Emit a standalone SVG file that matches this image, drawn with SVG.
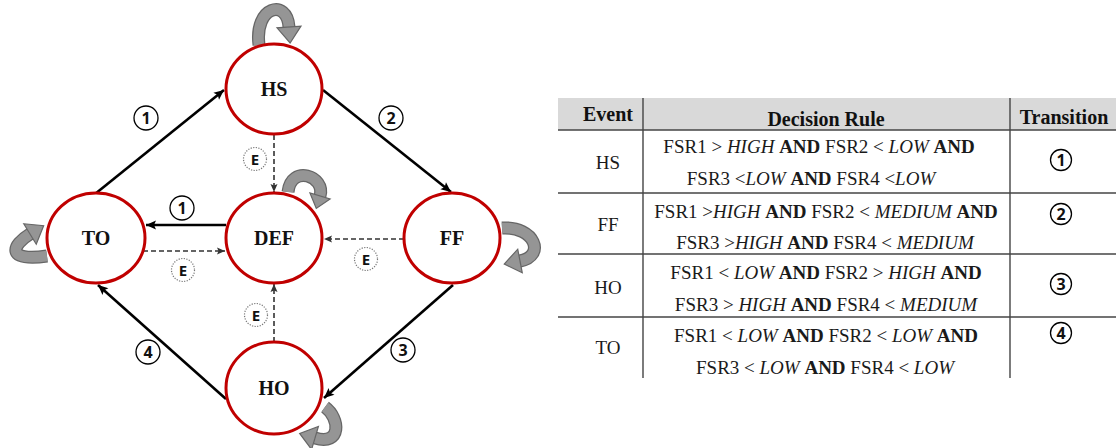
<svg xmlns="http://www.w3.org/2000/svg" width="1116" height="448" viewBox="0 0 1116 448">
  <style>
    .node { fill: #ffffff; stroke: #c00000; stroke-width: 3; }
    .nlabel { font-family: "Liberation Serif", serif; font-weight: bold; font-size: 20px; fill: #111; text-anchor: middle; }
    .solid { stroke: #000; stroke-width: 2.6; fill: none; }
    .dash { stroke: #333; stroke-width: 1.6; fill: none; stroke-dasharray: 5 3; }
    .num { fill: #fff; stroke: #000; stroke-width: 1.3; }
    .ecirc { fill: #fff; stroke: #777; stroke-width: 1.2; stroke-dasharray: 1.2 1.4; }
    .numtxt { font-family: "Open Sans", "Liberation Sans", sans-serif; font-weight: bold; font-size: 16px; fill: #111; text-anchor: middle; }
    .etxt { font-family: "Open Sans", "Liberation Sans", sans-serif; font-weight: bold; font-size: 15px; fill: #111; text-anchor: middle; }
    .loop-out { stroke: #666; stroke-width: 13; fill: none; }
    .loop-in { stroke: #959595; stroke-width: 10.5; fill: none; }
    .tbl { stroke: #444; stroke-width: 1.4; }
    .th { font-family: "Liberation Serif", serif; font-weight: bold; font-size: 20px; fill: #111; text-anchor: middle; }
    .td { font-family: "Liberation Serif", serif; font-size: 19px; fill: #1a1a1a; text-anchor: middle; }
    .i { font-style: italic; }
    .b { font-weight: bold; }
  </style>
  <defs>
    <marker id="arrow" markerUnits="userSpaceOnUse" markerWidth="12" markerHeight="12" viewBox="0 -6 12 12" refX="10" refY="0" orient="auto" overflow="visible">
      <path d="M0,-4.5 L10,0 L0,4.5 L2,0 Z" fill="#000"/>
    </marker>
    <marker id="arrowSmall" markerUnits="userSpaceOnUse" markerWidth="10" markerHeight="10" viewBox="0 -5 10 10" refX="8" refY="0" orient="auto" overflow="visible">
      <path d="M0,-3.5 L8,0 L0,3.5 L1.5,0 Z" fill="#333"/>
    </marker>
    <marker id="loopHead" markerUnits="userSpaceOnUse" markerWidth="22" markerHeight="28" viewBox="0 -14 22 28" refX="0" refY="0" orient="auto" overflow="visible">
      <path d="M0,-12 L16,0 L0,12 Z" fill="#959595" stroke="#666" stroke-width="1.2" stroke-linejoin="miter"/>
    </marker>
    <marker id="loopHeadS" markerUnits="userSpaceOnUse" markerWidth="20" markerHeight="24" viewBox="0 -12 20 24" refX="0" refY="0" orient="auto" overflow="visible">
      <path d="M0,-10.5 L13,0 L0,10.5 Z" fill="#959595" stroke="#666" stroke-width="1.2"/>
    </marker>
  </defs>

  <!-- transitions between states -->
  <g id="connectors">
    <line class="solid" x1="95" y1="194" x2="224" y2="90" marker-end="url(#arrow)"/>
    <line class="solid" x1="323" y1="90" x2="451" y2="192" marker-end="url(#arrow)"/>
    <line class="solid" x1="453" y1="285" x2="324" y2="398" marker-end="url(#arrow)"/>
    <line class="solid" x1="226" y1="399" x2="98" y2="285" marker-end="url(#arrow)"/>
    <line class="solid" x1="226" y1="225" x2="146" y2="225" marker-end="url(#arrow)"/>
    <line class="dash" x1="143" y1="251" x2="225" y2="251" marker-end="url(#arrowSmall)"/>
    <line class="dash" x1="404" y1="239" x2="324" y2="239" marker-end="url(#arrowSmall)"/>
    <line class="dash" x1="274" y1="135" x2="274" y2="192" marker-end="url(#arrowSmall)"/>
    <line class="dash" x1="274" y1="342" x2="274" y2="284" marker-end="url(#arrowSmall)"/>

    <!-- self loops -->
    <path class="loop-out" d="M 259 45 C 254 6, 287 -2, 289 27"/>
    <path class="loop-in" d="M 259 45 C 254 6, 287 -2, 289 27" marker-end="url(#loopHead)"/>
    <path class="loop-out" d="M 288 192 C 291 164, 326 176, 320 196" stroke-width="11.5"/>
    <path class="loop-in" d="M 288 192 C 291 164, 326 176, 320 196" stroke-width="9" marker-end="url(#loopHeadS)"/>
    <path class="loop-out" d="M 47 256 C 5 262, 12 245, 30 234"/>
    <path class="loop-in" d="M 47 256 C 5 262, 12 245, 30 234" marker-end="url(#loopHead)"/>
    <path class="loop-out" d="M 502 228 C 535 226, 546 256, 520 261"/>
    <path class="loop-in" d="M 502 228 C 535 226, 546 256, 520 261" marker-end="url(#loopHead)"/>
    <path class="loop-out" d="M 325 407 C 340 418, 342 446, 315 438"/>
    <path class="loop-in" d="M 325 407 C 340 418, 342 446, 315 438" marker-end="url(#loopHead)"/>

    <!-- transition labels -->
    <g id="label-1a"><circle class="num" cx="146" cy="118" r="12"/><text class="numtxt" x="146" y="124">1</text></g>
    <g id="label-2"><circle class="num" cx="391" cy="118" r="12"/><text class="numtxt" x="391" y="124">2</text></g>
    <g id="label-3"><circle class="num" cx="403" cy="350" r="12"/><text class="numtxt" x="403" y="356">3</text></g>
    <g id="label-4"><circle class="num" cx="148" cy="352" r="12"/><text class="numtxt" x="148" y="358">4</text></g>
    <g id="label-1b"><circle class="num" cx="182" cy="208" r="12"/><text class="numtxt" x="182" y="214">1</text></g>
    <g id="label-e1"><circle class="ecirc" cx="255" cy="159" r="11.5"/><text class="etxt" x="255" y="164.5">E</text></g>
    <g id="label-e2"><circle class="ecirc" cx="183" cy="270" r="11.5"/><text class="etxt" x="183" y="275.5">E</text></g>
    <g id="label-e3"><circle class="ecirc" cx="366" cy="259" r="11.5"/><text class="etxt" x="366" y="264.5">E</text></g>
    <g id="label-e4"><circle class="ecirc" cx="256" cy="315" r="11.5"/><text class="etxt" x="256" y="320.5">E</text></g>
  </g>

  <g id="HS"><ellipse class="node" cx="274" cy="89" rx="48" ry="45"/><text class="nlabel" x="274" y="96">HS</text></g>
  <g id="DEF"><ellipse class="node" cx="274" cy="238" rx="48" ry="45"/><text class="nlabel" x="274" y="245">DEF</text></g>
  <g id="TO"><ellipse class="node" cx="96" cy="238" rx="49" ry="45"/><text class="nlabel" x="96" y="245">TO</text></g>
  <g id="FF"><ellipse class="node" cx="452" cy="238" rx="48" ry="45"/><text class="nlabel" x="452" y="245">FF</text></g>
  <g id="HO"><ellipse class="node" cx="274" cy="388" rx="48" ry="46"/><text class="nlabel" x="274" y="395">HO</text></g>

  <!-- decision rule table -->
  <g id="table">
    <rect x="558" y="98" width="558" height="32" fill="#d9d9d9"/>
    <line class="tbl" x1="558" y1="130" x2="1116" y2="130"/>
    <line class="tbl" x1="558" y1="193" x2="1116" y2="193"/>
    <line class="tbl" x1="558" y1="254" x2="1116" y2="254"/>
    <line class="tbl" x1="558" y1="317" x2="1116" y2="317"/>
    <line class="tbl" x1="643" y1="98" x2="643" y2="378"/>
    <line class="tbl" x1="1010" y1="98" x2="1010" y2="378"/>

    <text class="th" x="608" y="121">Event</text>
    <text class="th" x="826" y="126">Decision Rule</text>
    <text class="th" x="1064" y="124">Transition</text>

    <text class="td" x="608" y="169">HS</text>
    <text class="td" x="608" y="231">FF</text>
    <text class="td" x="608" y="294">HO</text>
    <text class="td" x="608" y="354">TO</text>

    <text class="td" x="819" y="153">FSR1 &gt; <tspan class="i">HIGH</tspan> <tspan class="b">AND</tspan> FSR2 &lt; <tspan class="i">LOW</tspan> <tspan class="b">AND</tspan></text>
    <text class="td" x="811" y="185">FSR3 &lt;<tspan class="i">LOW</tspan> <tspan class="b">AND</tspan> FSR4 &lt;<tspan class="i">LOW</tspan></text>
    <text class="td" x="826" y="218">FSR1 &gt;<tspan class="i">HIGH</tspan> <tspan class="b">AND</tspan> FSR2 &lt; <tspan class="i">MEDIUM</tspan> <tspan class="b">AND</tspan></text>
    <text class="td" x="825" y="249">FSR3 &gt;<tspan class="i">HIGH</tspan> <tspan class="b">AND</tspan> FSR4 &lt; <tspan class="i">MEDIUM</tspan></text>
    <text class="td" x="826" y="279">FSR1 &lt; <tspan class="i">LOW</tspan> <tspan class="b">AND</tspan> FSR2 &gt; <tspan class="i">HIGH</tspan> <tspan class="b">AND</tspan></text>
    <text class="td" x="826" y="311">FSR3 &gt; <tspan class="i">HIGH</tspan> <tspan class="b">AND</tspan> FSR4 &lt; <tspan class="i">MEDIUM</tspan></text>
    <text class="td" x="826" y="342">FSR1 &lt; <tspan class="i">LOW</tspan> <tspan class="b">AND</tspan> FSR2 &lt; <tspan class="i">LOW</tspan> <tspan class="b">AND</tspan></text>
    <text class="td" x="825" y="374">FSR3 &lt; <tspan class="i">LOW</tspan> <tspan class="b">AND</tspan> FSR4 &lt; <tspan class="i">LOW</tspan></text>

    <g id="t1"><circle class="num" cx="1061" cy="160" r="10.5"/><text class="numtxt" x="1061" y="165.5" font-size="15">1</text></g>
    <g id="t2"><circle class="num" cx="1061" cy="214" r="10.5"/><text class="numtxt" x="1061" y="219.5" font-size="15">2</text></g>
    <g id="t3"><circle class="num" cx="1061" cy="284" r="10.5"/><text class="numtxt" x="1061" y="289.5" font-size="15">3</text></g>
    <g id="t4"><circle class="num" cx="1061" cy="333" r="10.5"/><text class="numtxt" x="1061" y="338.5" font-size="15">4</text></g>
  </g>
</svg>
